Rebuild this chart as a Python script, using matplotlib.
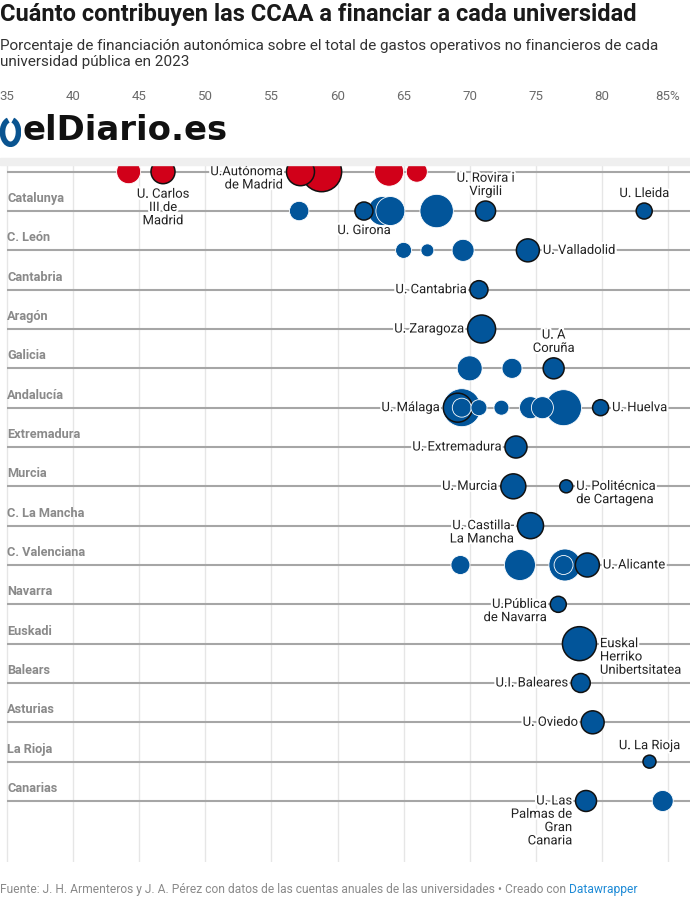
import numpy as np
import matplotlib.pyplot as plt
import matplotlib.patheffects as pe
from matplotlib.patches import Rectangle, Arc

plt.rcParams['font.family'] = ['Roboto', 'DejaVu Sans']

# Comunidades (filas, de arriba abajo)
comunidades = ["Madrid", "Catalunya", "C. León", "Cantabria", "Aragón", "Galicia",
               "Andalucía", "Extremadura", "Murcia", "C. La Mancha", "C. Valenciana",
               "Navarra", "Euskadi", "Balears", "Asturias", "La Rioja", "Canarias"]

# Universidades: comunidad, % financiación autonómica, gasto (tamaño del círculo)
uni_comunidad = (["Madrid"] * 6 + ["Catalunya"] * 7 + ["C. León"] * 4 + ["Cantabria", "Aragón"]
                 + ["Galicia"] * 3 + ["Andalucía"] * 9 + ["Extremadura"] + ["Murcia"] * 2
                 + ["C. La Mancha"] + ["C. Valenciana"] * 5 + ["Navarra", "Euskadi", "Balears",
                 "Asturias", "La Rioja"] + ["Canarias"] * 2)
uni_pct = [44.2, 46.8, 57.2, 58.8, 63.9, 66.0,
           57.1, 62.0, 63.4, 64.0, 67.5, 71.2, 83.2,
           65.0, 66.8, 69.5, 74.4,
           70.7, 70.9,
           70.0, 73.2, 76.35,
           69.4, 69.1, 69.4, 70.7, 72.4, 74.6, 75.5, 77.1, 79.9,
           73.5,
           73.3, 77.3,
           74.6,
           69.3, 73.8, 77.2, 77.1, 78.9,
           76.7, 78.3, 78.4, 79.3, 83.6,
           78.8, 84.6]
uni_gasto = [216, 216, 294, 600, 315, 165,
             141, 122, 315, 315, 418, 150, 96,
             96, 63, 182, 198,
             122, 294,
             234, 150, 165,
             541, 315, 135, 96, 84, 182, 182, 486, 96,
             182,
             234, 63,
             254,
             135, 360, 384, 135, 216,
             96, 433, 135, 198, 63,
             165, 165]
uni_etiqueta = ["", "U. Carlos\nIII de\nMadrid", "U.Autónoma\nde Madrid", "", "", "",
                "", "U. Girona", "", "", "", "U. Rovira i\nVirgili", "U. Lleida",
                "", "", "", "U. Valladolid",
                "U. Cantabria", "U. Zaragoza",
                "", "", "U. A\nCoruña",
                "", "U. Málaga", "", "", "", "", "", "", "U. Huelva",
                "U. Extremadura",
                "U. Murcia", "U. Politécnica\nde Cartagena",
                "U. Castilla-\nLa Mancha",
                "", "", "", "", "U. Alicante",
                "U.Pública\nde Navarra", "Euskal\nHerriko\nUnibertsitatea", "U.I. Baleares",
                "U. Oviedo", "U. La Rioja",
                "U. Las\nPalmas de\nGran\nCanaria", ""]
uni_destacada = [False, True, True, True, False, False,
                 False, True, False, False, False, True, True,
                 False, False, False, True,
                 True, True,
                 False, False, True,
                 False, True, False, False, False, False, False, False, True,
                 True,
                 True, True,
                 True,
                 False, False, False, False, True,
                 True, True, True, True, True,
                 True, False]

# dónde va cada etiqueta respecto a su círculo
colocacion = {"U. Carlos\nIII de\nMadrid": "abajo", "U.Autónoma\nde Madrid": "izq",
              "U. Girona": "abajo", "U. Rovira i\nVirgili": "arriba", "U. Lleida": "arriba",
              "U. Valladolid": "der", "U. Cantabria": "izq", "U. Zaragoza": "izq",
              "U. A\nCoruña": "arriba", "U. Málaga": "izq", "U. Huelva": "der",
              "U. Extremadura": "izq", "U. Murcia": "izq",
              "U. Politécnica\nde Cartagena": "der", "U. Castilla-\nLa Mancha": "izq",
              "U. Alicante": "der", "U.Pública\nde Navarra": "izq",
              "Euskal\nHerriko\nUnibertsitatea": "der", "U.I. Baleares": "izq",
              "U. Oviedo": "izq", "U. La Rioja": "arriba",
              "U. Las\nPalmas de\nGran\nCanaria": "izq"}

ticks = [35, 40, 45, 50, 55, 60, 65, 70, 75, 80, 85]

W, H = 690, 898
fig = plt.figure(figsize=(W / 100, H / 100), dpi=100)
fig.patch.set_facecolor('white')

def fy(y):
    return 1 - y / H

# Cabecera
fig.text(0.0, fy(14), "Cuánto contribuyen las CCAA a financiar a cada universidad",
         fontsize=17, fontweight='bold', color='#1a1a1a', va='center', ha='left')
fig.text(0.0, fy(39), "Porcentaje de financiación autonómica sobre el total de gastos operativos no financieros de cada\nuniversidad pública en 2023",
         fontsize=11.0, color='#333333', va='top', ha='left', linespacing=1.17)

# Logo
ax_logo = fig.add_axes([0.0, fy(147), 21 / W, 30 / H])
ax_logo.set_xlim(-1, 1)
ax_logo.set_ylim(-1, 1)
ax_logo.axis('off')
ax_logo.add_patch(Arc((0, 0), 1.52, 1.64, theta1=105, theta2=75, lw=4.0, color='#0a5490'))
fig.text(23 / W, fy(131), "elDiario.es", fontsize=24.4, fontweight='bold',
         family='DejaVu Sans', color='#111111', va='center', ha='left')

# Franja gris
fig.add_artist(Rectangle((0, fy(165)), 1, 7 / H, transform=fig.transFigure,
                         color='#efefef', zorder=5))

# Gráfico principal
px_unit = 13.22
row_px = 39.33
y_top, y_bot = 165, 862
ax = fig.add_axes([0.0, fy(y_bot), 1.0, (y_bot - y_top) / H])
x0 = 35 - 7 / px_unit
x1 = 35 + (W - 7) / px_unit
ax.set_xlim(x0, x1)
ax.set_ylim((y_bot - 171.7) / row_px, -(171.7 - y_top) / row_px)
for s in ax.spines.values():
    s.set_visible(False)
ax.set_yticks([])
ax.xaxis.set_ticks_position('top')
ax.set_xticks(ticks)
ax.set_xticklabels([str(t) if t != 85 else "85%" for t in ticks])
ax.tick_params(axis='x', length=0, pad=44.5, labelsize=9.5, labelcolor='#6b6b6b')

for t in ticks:
    ax.axvline(t, color='#e6e6e6', lw=1, zorder=0)

filas = np.arange(len(comunidades))
ax.hlines(filas, 35, x1, color='#a6a6a6', lw=1.5, zorder=1)

for i, c in enumerate(comunidades):
    t = ax.annotate(c, xy=(35, i), xytext=(0, 12.5 * 0.72), textcoords='offset points',
                    ha='left', va='center', fontsize=9.2, fontweight='bold', color='#8a8a8a',
                    annotation_clip=False)
    t.set_clip_on(True)
    t.set_clip_path(ax.patch)

# Círculos
idx_fila = {c: i for i, c in enumerate(comunidades)}
ys = np.array([idx_fila[c] for c in uni_comunidad])
xs = np.array(uni_pct)
gasto = np.array(uni_gasto, dtype=float)
radio = 20 * np.sqrt(gasto / 600)        # px
sizes = (2 * radio * 0.72) ** 2
colores = np.array(['#d10019' if c == "Madrid" else '#02559a' for c in uni_comunidad])
bordes = np.array(['#111111' if d else '#ffffff' for d in uni_destacada])
anchos = np.array([1.1 if d else 0.6 for d in uni_destacada])

orden = np.argsort(-gasto, kind='stable')
ax.scatter(xs[orden], ys[orden], s=sizes[orden], c=colores[orden],
           edgecolors=bordes[orden], linewidths=anchos[orden], zorder=3)

halo = [pe.withStroke(linewidth=3, foreground='white')]
for x, y, r, lab in zip(xs, ys, radio, uni_etiqueta):
    if not lab:
        continue
    pos = colocacion[lab]
    if pos == "izq":
        kw = dict(xytext=(-(r + 3.5) * 0.72, 6.5 * 0.72), ha='right', va='top', multialignment='right')
    elif pos == "der":
        kw = dict(xytext=((r + 3.5) * 0.72, 6.5 * 0.72), ha='left', va='top', multialignment='left')
    elif pos == "arriba":
        kw = dict(xytext=(0, (r + 3) * 0.72), ha='center', va='bottom', multialignment='center')
    else:
        kw = dict(xytext=(0, -(r + 4) * 0.72), ha='center', va='top', multialignment='center')
    ax.annotate(lab, xy=(x, y), textcoords='offset points', fontsize=9.4, color='#222222',
                linespacing=1.03, path_effects=halo, zorder=4, annotation_clip=False, **kw)

# Pie
fuente = fig.text(0.0, fy(890), "Fuente: J. H. Armenteros y J. A. Pérez con datos de las cuentas anuales de las universidades • Creado con ",
                  fontsize=8.65, color='#8a8a8a', va='center', ha='left')
fig.add_artist(plt.Annotation("Datawrapper", xy=(1, 0), xycoords=fuente,
                              va='bottom', ha='left', fontsize=8.65, color='#1d8ad6'))

fig.savefig("out.png", dpi=100)
